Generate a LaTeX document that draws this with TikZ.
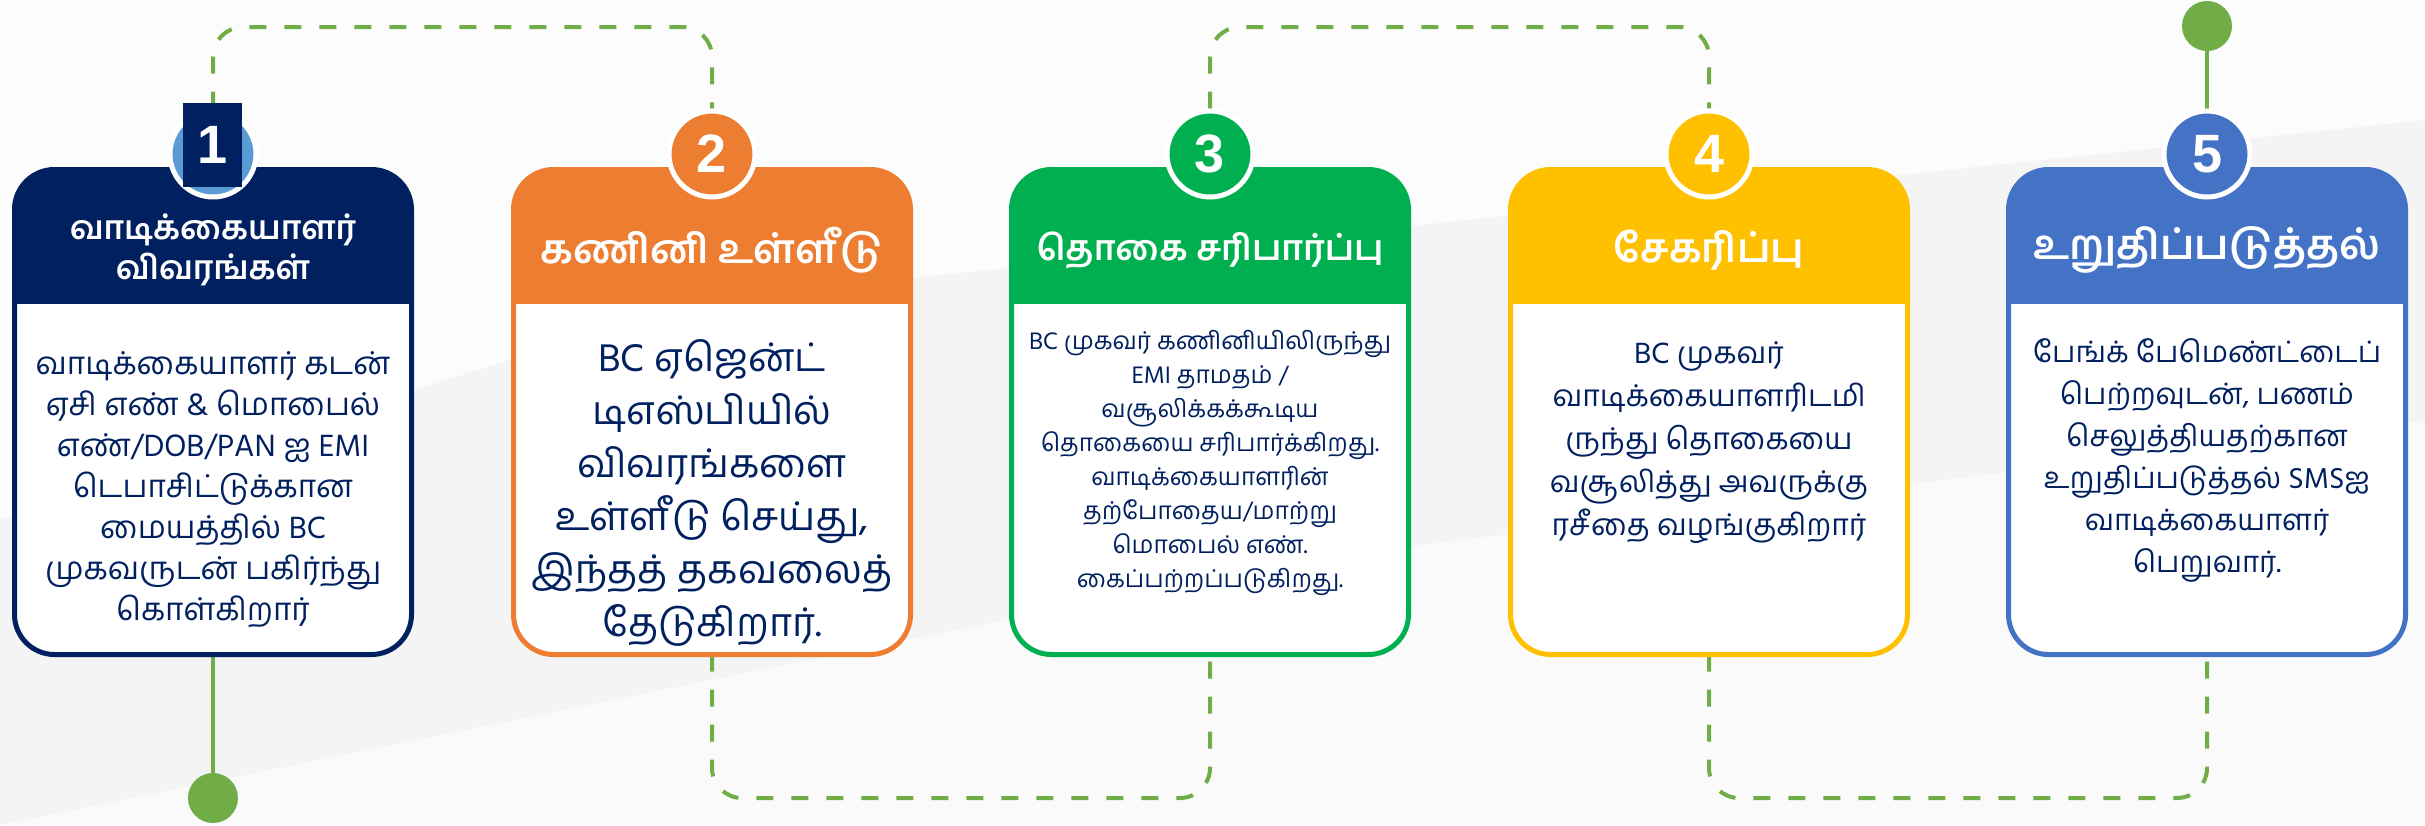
\documentclass[tikz,border=0pt]{standalone}
\usepackage{fontspec}
\newfontfamily\tafont[Script=Tamil]{Hind Madurai}
\newfontfamily\numfont{Liberation Sans}
\definecolor{navy}{HTML}{002060}
\definecolor{paleblue}{HTML}{5B9BD5}
\definecolor{orangeish}{HTML}{ED7D31}
\definecolor{greenish}{HTML}{00B050}
\definecolor{amber}{HTML}{FFC000}
\definecolor{steelblue}{HTML}{4472C4}
\definecolor{linkgreen}{HTML}{70AD47}
\definecolor{bgtone}{HTML}{F4F4F4}
\tikzset{
  cardbox/.style={rounded corners=40pt, minimum width=397pt, minimum height=485pt, inner sep=0pt, outer sep=0pt},
  cardrim/.style={draw=#1, line width=5pt, rounded corners=40pt},
  numslot/.style={circle, line width=5pt, minimum size=86pt, inner sep=0pt},
  numdisc/.style={numslot, fill=#1, draw=white, text=white, font=\numfont\bfseries\fontsize{54}{54}\selectfont},
  headtext/.style={text=white, align=center, font=\tafont\bfseries\fontsize{#1}{40}\selectfont},
  bodytext/.style={text=navy, align=center},
  link/.style={linkgreen, line width=4pt, dash pattern=on 17pt off 18pt, rounded corners=30pt},
  stem/.style={linkgreen, line width=4pt},
  enddot/.style={circle, fill=linkgreen, minimum size=50pt, inner sep=0pt}
}
\begin{document}
\begin{tikzpicture}[x=1pt, y=-1pt]
\useasboundingbox (0,0) rectangle (2425,825);
\fill[bgtone] (0,0) rectangle (2425,825);
\fill[white, opacity=0.8] (0,520) -- (700,300) -- (2425,120) -- (2425,0) -- (0,0) -- cycle;
\fill[white, opacity=0.6] (0,825) -- (1300,560) -- (2425,420) -- (2425,825) -- cycle;

\node[cardbox] (card1) at (213,412) {};
\node[cardbox] (card2) at (712,412) {};
\node[cardbox] (card3) at (1210,412) {};
\node[cardbox] (card4) at (1709,412) {};
\node[cardbox] (card5) at (2207,412) {};

\node[numslot] (num1) at (213,154) {};
\node[numslot] (num2) at (712,154) {};
\node[numslot] (num3) at (1210,154) {};
\node[numslot] (num4) at (1709,154) {};
\node[numslot] (num5) at (2207,154) {};

\node[enddot] (dot1) at (213,798) {};
\node[enddot] (dot5) at (2207,26) {};

\draw[link] (num1.north) -- (num1.north |- 0,27) -- (num2.north |- 0,27) -- (num2.north);
\draw[link] (num3.north) -- (num3.north |- 0,27) -- (num4.north |- 0,27) -- (num4.north);
\draw[link] (card2.south) -- (card2.south |- 0,798) -- (card3.south |- 0,798) -- (card3.south);
\draw[link] (card4.south) -- (card4.south |- 0,798) -- (card5.south |- 0,798) -- (card5.south);
\draw[stem] (card1.south) -- (dot1);
\draw[stem] (dot5) -- (num5.north);

\begin{scope}
\clip[rounded corners=40pt] (card1.north west) rectangle (card1.south east);
\fill[white] (card1.north west) rectangle (card1.south east);
\fill[navy] (card1.north west) rectangle ([yshift=-134pt]card1.north east);
\end{scope}
\draw[cardrim=navy] (card1.north west) rectangle (card1.south east);
\begin{scope}
\clip[rounded corners=40pt] (card2.north west) rectangle (card2.south east);
\fill[white] (card2.north west) rectangle (card2.south east);
\fill[orangeish] (card2.north west) rectangle ([yshift=-134pt]card2.north east);
\end{scope}
\draw[cardrim=orangeish] (card2.north west) rectangle (card2.south east);
\begin{scope}
\clip[rounded corners=40pt] (card3.north west) rectangle (card3.south east);
\fill[white] (card3.north west) rectangle (card3.south east);
\fill[greenish] (card3.north west) rectangle ([yshift=-134pt]card3.north east);
\end{scope}
\draw[cardrim=greenish] (card3.north west) rectangle (card3.south east);
\begin{scope}
\clip[rounded corners=40pt] (card4.north west) rectangle (card4.south east);
\fill[white] (card4.north west) rectangle (card4.south east);
\fill[amber] (card4.north west) rectangle ([yshift=-134pt]card4.north east);
\end{scope}
\draw[cardrim=amber] (card4.north west) rectangle (card4.south east);
\begin{scope}
\clip[rounded corners=40pt] (card5.north west) rectangle (card5.south east);
\fill[white] (card5.north west) rectangle (card5.south east);
\fill[steelblue] (card5.north west) rectangle ([yshift=-134pt]card5.north east);
\end{scope}
\draw[cardrim=steelblue] (card5.north west) rectangle (card5.south east);

\node[numdisc=paleblue] at (num1) {};
\node[numdisc=orangeish] at (num2) {2};
\node[numdisc=greenish] at (num3) {3};
\node[numdisc=amber] at (num4) {4};
\node[numdisc=steelblue] at (num5) {5};
\node[fill=navy, minimum width=59pt, minimum height=84pt, inner sep=0pt, text=white, font=\numfont\bfseries\fontsize{54}{54}\selectfont] (tab1) at (212.5,145) {1};

\node[headtext=33] (head1) at (213,250) {வாடிக்கையாளர்\\விவரங்கள்};
\node[headtext=40] (head2) at (712,250) {கணினி உள்ளீடு};
\node[headtext=35] (head3) at (1210,250) {தொகை சரிபார்ப்பு};
\node[headtext=40] (head4) at (1709,250) {சேகரிப்பு};
\node[headtext=41] (head5) at (2207,250) {உறுதிப்படுத்தல்};

\node[bodytext, font=\tafont\fontsize{31.5}{41}\selectfont] (body1) at (213,490) {வாடிக்கையாளர் கடன்\\ஏசி எண் \& மொபைல்\\எண்/DOB/PAN ஐ EMI\\டெபாசிட்டுக்கான\\மையத்தில் BC\\முகவருடன் பகிர்ந்து\\கொள்கிறார்};
\node[bodytext, font=\tafont\fontsize{39.5}{53}\selectfont] (body2) at (712,493) {BC ஏஜென்ட்\\டிஎஸ்பியில்\\விவரங்களை\\உள்ளீடு செய்து,\\இந்தத் தகவலைத்\\தேடுகிறார்.};
\node[bodytext, font=\tafont\fontsize{24.5}{34}\selectfont] (body3) at (1210,463) {BC முகவர் கணினியிலிருந்து\\EMI தாமதம் /\\வசூலிக்கக்கூடிய\\தொகையை சரிபார்க்கிறது.\\வாடிக்கையாளரின்\\தற்போதைய/மாற்று\\மொபைல் எண்.\\கைப்பற்றப்படுகிறது.};
\node[bodytext, font=\tafont\fontsize{30}{43}\selectfont] (body4) at (1709,443) {BC முகவர்\\வாடிக்கையாளரிடமி\\ருந்து தொகையை\\வசூலித்து அவருக்கு\\ரசீதை வழங்குகிறார்};
\node[bodytext, font=\tafont\fontsize{29.5}{42}\selectfont] (body5) at (2207,460) {பேங்க் பேமெண்ட்டைப்\\பெற்றவுடன், பணம்\\செலுத்தியதற்கான\\உறுதிப்படுத்தல் SMSஐ\\வாடிக்கையாளர்\\பெறுவார்.};
\end{tikzpicture}
\end{document}
